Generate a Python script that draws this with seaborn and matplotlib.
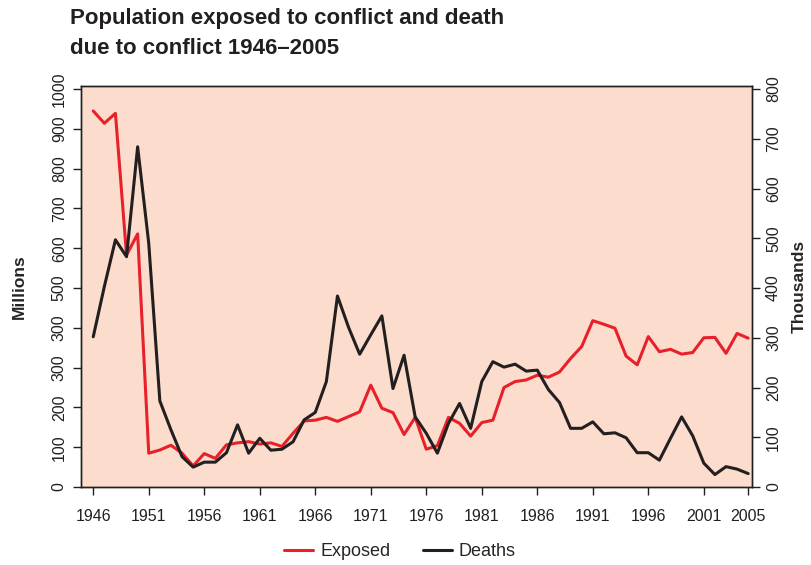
import numpy as np
import pandas as pd
import matplotlib.pyplot as plt
import seaborn as sns

# data
years = list(range(1946, 2006))
exposed = [945, 914, 939, 583, 636, 85, 93, 105, 85, 53,
           84, 72, 106, 111, 114, 108, 111, 102, 135, 166,
           168, 175, 165, 177, 189, 256, 198, 187, 132, 175,
           95, 104, 175, 160, 128, 162, 168, 250, 265, 269,
           281, 276, 289, 323, 353, 418, 409, 399, 329, 307,
           378, 340, 346, 334, 338, 375, 376, 336, 386, 374]  # millions
deaths = [302, 403, 497, 463, 684, 490, 173, 115, 61, 40,
          50, 50, 69, 125, 68, 98, 74, 76, 91, 135,
          150, 212, 384, 321, 267, 306, 344, 198, 265, 141,
          108, 68, 128, 168, 118, 212, 252, 241, 247, 233,
          235, 196, 170, 118, 118, 131, 107, 109, 99, 69,
          69, 54, 98, 141, 103, 48, 25, 41, 36, 27]  # thousands
xtick_years = [1946, 1951, 1956, 1961, 1966, 1971, 1976, 1981, 1986, 1991, 1996, 2001, 2005]
left_ticks = [0, 100, 200, 300, 400, 500, 600, 700, 800, 900, 1000]
left_labels = ['0', '100', '200', '300', '300', '500', '600', '700', '800', '900', '1000']
right_ticks = [0, 100, 200, 300, 400, 500, 600, 700, 800]

df = pd.DataFrame({'year': years, 'exposed': exposed, 'deaths': deaths})

sns.set_style('ticks')
plt.rcParams['font.family'] = ['Liberation Sans', 'DejaVu Sans']

red = '#E8202A'
black = '#231F20'
bg = '#FCDDCD'

fig = plt.figure(figsize=(8.11, 5.65), dpi=100)
ax = fig.add_axes([0.0995, 0.138, 0.828, 0.71])
ax.set_facecolor(bg)
ax2 = ax.twinx()

sns.lineplot(data=df, x='year', y='exposed', ax=ax, color=red, lw=2.2, label='Exposed', legend=False)
sns.lineplot(data=df, x='year', y='deaths', ax=ax2, color=black, lw=2.2, label='Deaths', legend=False)

ax.set_xlim(1944.87, 2005.36)
ax.set_ylim(0, 1008)
ax2.set_ylim(0, 806.4)

fs = 11.5
ax.set_xticks(xtick_years)
ax.set_xticklabels([str(y) for y in xtick_years], fontsize=fs)
ax.set_yticks(left_ticks)
ax.set_yticklabels(left_labels, fontsize=fs, rotation=90, va='center')
ax2.set_yticks(right_ticks)
ax2.set_yticklabels([str(v) for v in right_ticks], fontsize=fs, rotation=90, va='center')

for a in (ax, ax2):
    for s in a.spines.values():
        s.set_visible(True)
        s.set_color(black)
        s.set_linewidth(1.0)
    a.tick_params(length=6, width=1, color=black, labelcolor=black, pad=4)
ax.tick_params(axis='x', pad=10)

ax.set_xlabel('')
ax.set_ylabel('Millions', fontsize=12.5, fontweight='bold', labelpad=18)
ax2.set_ylabel('Thousands', fontsize=12.5, fontweight='bold', labelpad=8, rotation=90)

fig.text(0.086, 0.985, 'Population exposed to conflict and death\ndue to conflict 1946\u20132005',
         fontsize=16, fontweight='bold', va='top', ha='left', color=black, linespacing=1.55)

h1, l1 = ax.get_legend_handles_labels()
h2, l2 = ax2.get_legend_handles_labels()
fig.legend(h1 + h2, l1 + l2, loc='center', bbox_to_anchor=(0.493, 0.024), ncol=2,
           frameon=False, fontsize=13, handlelength=1.6, handletextpad=0.4, columnspacing=1.8)

fig.savefig('out.png', dpi=100)
